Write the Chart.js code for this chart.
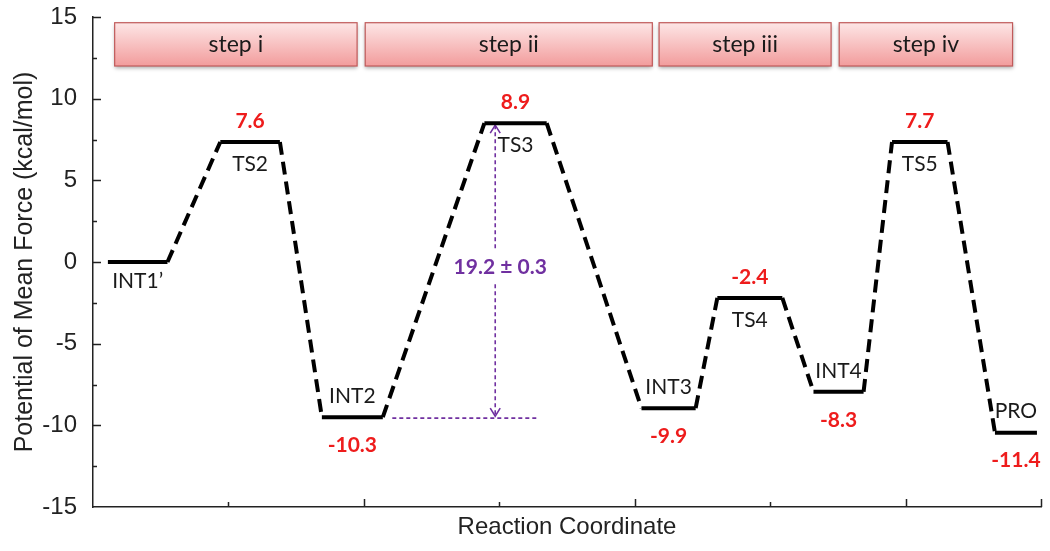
<!DOCTYPE html>
<html>
<head>
<meta charset="utf-8">
<script src="https://cdn.jsdelivr.net/npm/chart.js@4.4.1/dist/chart.umd.min.js"></script>
<style>
  html, body { margin: 0; padding: 0; background: #fff; }
  #contenedor { width: 1050px; height: 551px; }
</style>
</head>
<body>
<div id="contenedor"><canvas id="pmf"></canvas></div>
<script>
// Estados a lo largo de la coordenada de reaccion
const estados = ["INT1\u2019", "TS2", "INT2", "TS3", "INT3", "TS4", "INT4", "TS5", "PRO"];
const nivelInicio = [0.11, 0.94, 1.69, 2.89, 4.05, 4.61, 5.32, 5.90, 6.66];
const nivelFin = [0.55, 1.38, 2.14, 3.35, 4.45, 5.09, 5.69, 6.31, 6.97];
const energias = [0, 7.35, -9.5, 8.5, -8.95, -2.2, -7.95, 7.35, -10.45];
const etiquetasValor = ["", "7.6", "-10.3", "8.9", "-9.9", "-2.4", "-8.3", "7.7", "-11.4"];

// Cajas de los pasos (en unidades de la coordenada de reaccion)
const pasos = ["step i", "step ii", "step iii", "step iv"];
const pasoInicio = [0.16, 2.01, 4.18, 5.51];
const pasoFin = [1.95, 4.13, 5.45, 6.79];
const pasoArriba = 14.65;
const pasoAbajo = 12.0;

// Barrera INT2 -> TS3
const textoBarrera = "19.2 \u00B1 0.3";
const xBarrera = 2.97;
const barreraDesde = 2.21;
const barreraHasta = 3.28;

const yTicks = [-15, -10, -5, 0, 5, 10, 15];

const morado = '#7030a0';
const rojo = '#ee1c1c';
const fuenteEtiquetas = 'Lato, "Open Sans", sans-serif';

document.addEventListener("DOMContentLoaded", () => {
    const puntos = [];
    estados.forEach((e, i) => {
        puntos.push({ x: nivelInicio[i], y: energias[i] });
        puntos.push({ x: nivelFin[i], y: energias[i] });
    });
    pintarPerfil(puntos);
});

const pluginAnotaciones = {
    id: 'anotaciones',
    beforeDatasetsDraw(chart) {
        const { ctx, scales: { x, y } } = chart;
        // cajas de los pasos
        pasos.forEach((nombre, i) => {
            const x0 = x.getPixelForValue(pasoInicio[i]);
            const x1 = x.getPixelForValue(pasoFin[i]);
            const y0 = y.getPixelForValue(pasoArriba);
            const y1 = y.getPixelForValue(pasoAbajo);
            ctx.save();
            const grad = ctx.createLinearGradient(0, y0, 0, y1);
            grad.addColorStop(0, '#fde6e6');
            grad.addColorStop(1, '#f29c9c');
            ctx.shadowColor = 'rgba(0,0,0,0.35)';
            ctx.shadowBlur = 4;
            ctx.shadowOffsetY = 2;
            ctx.fillStyle = grad;
            ctx.fillRect(x0, y0, x1 - x0, y1 - y0);
            ctx.shadowColor = 'transparent';
            ctx.strokeStyle = '#c05a5a';
            ctx.lineWidth = 1.2;
            ctx.strokeRect(x0, y0, x1 - x0, y1 - y0);
            ctx.fillStyle = '#1a1a1a';
            ctx.font = '23px ' + fuenteEtiquetas;
            ctx.textAlign = 'center';
            ctx.textBaseline = 'middle';
            ctx.fillText(nombre, (x0 + x1) / 2, (y0 + y1) / 2);
            ctx.restore();
        });

        // flecha de la barrera
        const xb = x.getPixelForValue(xBarrera);
        const yTop = y.getPixelForValue(energias[3]);
        const yBot = y.getPixelForValue(energias[2]);
        const yMid = (yTop + yBot) / 2 - 3;
        ctx.save();
        ctx.strokeStyle = morado;
        ctx.lineWidth = 1.6;
        ctx.setLineDash([4, 3]);
        ctx.beginPath();
        ctx.moveTo(xb, yTop + 2);
        ctx.lineTo(xb, yMid - 17);
        ctx.moveTo(xb, yMid + 17);
        ctx.lineTo(xb, yBot - 1);
        ctx.moveTo(x.getPixelForValue(barreraDesde), yBot + 1);
        ctx.lineTo(x.getPixelForValue(barreraHasta), yBot + 1);
        ctx.stroke();
        ctx.setLineDash([]);
        ctx.beginPath();
        ctx.moveTo(xb - 5, yTop + 10);
        ctx.lineTo(xb, yTop + 2);
        ctx.lineTo(xb + 5, yTop + 10);
        ctx.moveTo(xb - 5, yBot - 9);
        ctx.lineTo(xb, yBot - 1);
        ctx.lineTo(xb + 5, yBot - 9);
        ctx.stroke();
        ctx.fillStyle = morado;
        ctx.font = 'bold 21px ' + fuenteEtiquetas;
        ctx.textAlign = 'center';
        ctx.textBaseline = 'middle';
        ctx.fillText(textoBarrera, xb + 5, yMid);
        ctx.restore();
    },
    afterDatasetsDraw(chart) {
        const { ctx, scales: { x, y } } = chart;
        ctx.save();
        ctx.textAlign = 'center';
        ctx.textBaseline = 'middle';
        estados.forEach((nombre, i) => {
            const cx = (x.getPixelForValue(nivelInicio[i]) + x.getPixelForValue(nivelFin[i])) / 2;
            const cy = y.getPixelForValue(energias[i]);
            const esTS = nombre.startsWith('TS');
            const valor = etiquetasValor[i];
            ctx.font = '21px ' + fuenteEtiquetas;
            ctx.fillStyle = '#1a1a1a';
            if (esTS || !valor) {
                ctx.fillText(nombre, cx, cy + (valor ? 22 : 19));
            } else {
                ctx.fillText(nombre, cx, cy - 21);
            }
            if (valor) {
                ctx.font = 'bold 21px ' + fuenteEtiquetas;
                ctx.fillStyle = rojo;
                ctx.fillText(valor, cx, esTS ? cy - 21 : cy + 28);
            }
        });
        ctx.restore();
    },
    afterDraw(chart) {
        // marcas de los ejes hacia dentro
        const { ctx, chartArea, scales: { x, y } } = chart;
        ctx.save();
        ctx.strokeStyle = '#222';
        ctx.lineWidth = 1.5;
        ctx.beginPath();
        for (let v = -12.5; v <= 15; v += 2.5) {
            const py = Math.round(y.getPixelForValue(v)) + 0.5;
            const len = v % 5 === 0 ? 8 : 4;
            ctx.moveTo(chartArea.left, py);
            ctx.lineTo(chartArea.left + len, py);
        }
        for (let v = 1; v <= 7; v++) {
            const px = Math.round(x.getPixelForValue(v)) + 0.5;
            const len = (v % 2 === 0 || v === 7) ? 8 : 5;
            ctx.moveTo(px, chartArea.bottom);
            ctx.lineTo(px, chartArea.bottom - len);
        }
        ctx.stroke();
        ctx.restore();
    }
};

function pintarPerfil(puntos) {
    new Chart(document.getElementById("pmf"), {
        type: 'line',
        data: {
            datasets: [{
                label: 'PMF',
                data: puntos,
                borderColor: '#000',
                borderWidth: 4,
                borderCapStyle: 'butt',
                borderJoinStyle: 'miter',
                pointRadius: 0,
                tension: 0,
                fill: false,
                segment: {
                    borderDash: ctx => ctx.p0DataIndex % 2 === 1 ? [13, 7] : undefined
                }
            }]
        },
        options: {
            responsive: true,
            maintainAspectRatio: false,
            animation: false,
            layout: { padding: { top: 17, right: 9, left: 0, bottom: 0 } },
            plugins: {
                legend: { display: false },
                tooltip: { enabled: false }
            },
            scales: {
                x: {
                    type: 'linear',
                    min: 0,
                    max: 7,
                    grid: { display: false },
                    border: { display: true, color: '#222', width: 1.5 },
                    ticks: { display: false },
                    title: {
                        display: true,
                        text: 'Reaction Coordinate',
                        color: '#222',
                        font: { family: '"Liberation Sans", Arial, sans-serif', size: 24 },
                        padding: { top: 5, bottom: 9 }
                    },
                    afterFit: s => { s.height = 44; s.paddingLeft = 0; s.paddingRight = 0; }
                },
                y: {
                    min: -15,
                    max: 15,
                    afterBuildTicks: s => { s.ticks = yTicks.map(v => ({ value: v })); },
                    grid: { display: false },
                    border: { display: true, color: '#222', width: 1.5 },
                    ticks: {
                        color: '#222',
                        padding: 8,
                        font: { family: '"Liberation Sans", Arial, sans-serif', size: 24 }
                    },
                    title: {
                        display: true,
                        text: 'Potential of Mean Force (kcal/mol)',
                        color: '#222',
                        font: { family: '"Liberation Sans", Arial, sans-serif', size: 25 },
                        padding: { top: 10, bottom: 0 }
                    },
                    afterFit: s => { s.width = 93; s.paddingTop = 0; s.paddingBottom = 0; }
                }
            }
        },
        plugins: [pluginAnotaciones]
    });
}
</script>
</body>
</html>
